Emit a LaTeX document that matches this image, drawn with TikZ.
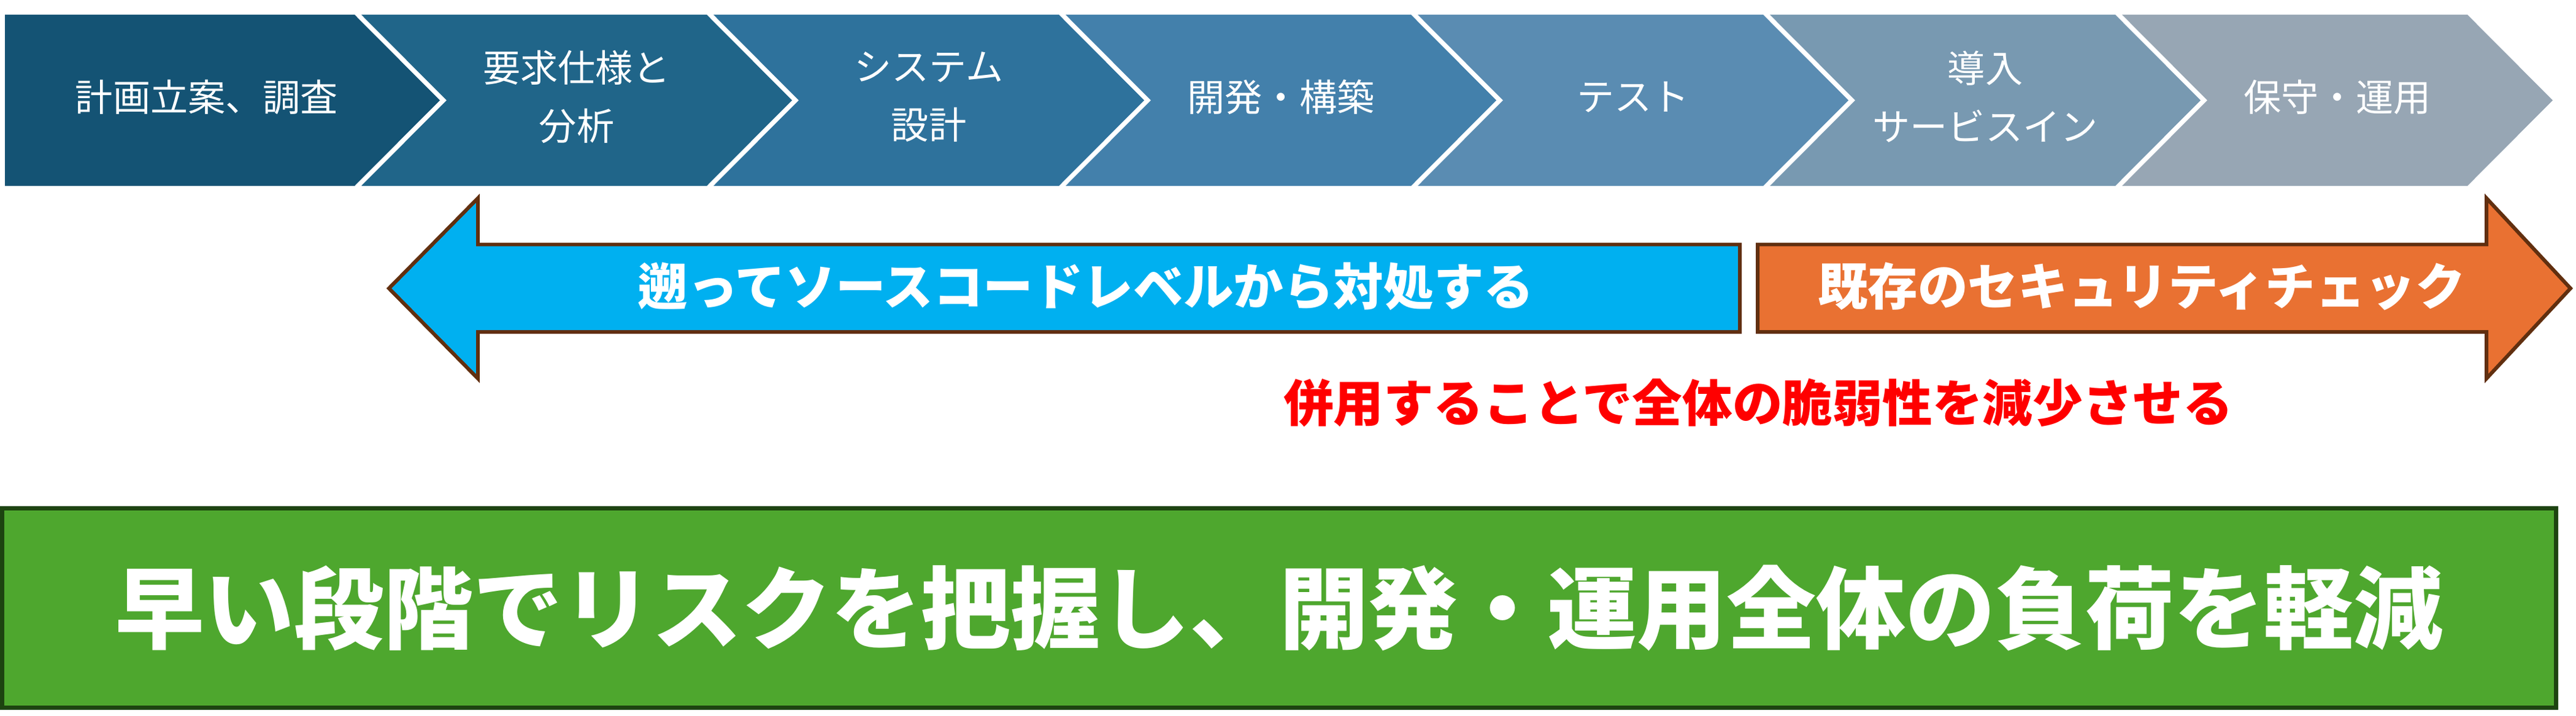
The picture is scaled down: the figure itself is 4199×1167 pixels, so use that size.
\documentclass[tikz,border=0pt]{standalone}
\usepackage{fontspec}
\setmainfont{Noto Sans CJK JP}
\usetikzlibrary{positioning}
\definecolor{stepa}{HTML}{145374}
\definecolor{stepb}{HTML}{206589}
\definecolor{stepc}{HTML}{2E729C}
\definecolor{stepd}{HTML}{4380AB}
\definecolor{stepe}{HTML}{5A8CB2}
\definecolor{stepf}{HTML}{7899B1}
\definecolor{stepg}{HTML}{97A6B4}
\definecolor{backblue}{HTML}{00B0F0}
\definecolor{checkorange}{HTML}{E97132}
\definecolor{arrowbrown}{HTML}{612F0F}
\definecolor{goalgreen}{HTML}{4EA72E}
\definecolor{goaldark}{HTML}{1D4410}

\begin{document}
\begin{tikzpicture}[x=0.01cm, y=-0.01cm,
            stagetext/.style={text=white, align=center, font=\fontsize{17.4pt}{27pt}\selectfont},
            arrowtext/.style={text=white, font=\bfseries\fontsize{23.2pt}{28pt}\selectfont},
            blockarrow/.style={draw=arrowbrown, line width=1.7pt, miter limit=10}]
        \useasboundingbox (0,0) rectangle (4199,1167);
        % process chevrons
        \fill[stepa] (8,24) -- (578,24) -- (717,163.5) -- (578,303) -- (8,303) -- cycle;
        \fill[stepb] (589,24) -- (1152,24) -- (1291,163.5) -- (1152,303) -- (589,303) -- (728,163.5) -- cycle;
        \fill[stepc] (1163,24) -- (1726,24) -- (1865,163.5) -- (1726,303) -- (1163,303) -- (1302,163.5) -- cycle;
        \fill[stepd] (1737,24) -- (2300,24) -- (2439,163.5) -- (2300,303) -- (1737,303) -- (1876,163.5) -- cycle;
        \fill[stepe] (2311,24) -- (2874,24) -- (3013,163.5) -- (2874,303) -- (2311,303) -- (2450,163.5) -- cycle;
        \fill[stepf] (2885,24) -- (3448,24) -- (3587,163.5) -- (3448,303) -- (2885,303) -- (3024,163.5) -- cycle;
        \fill[stepg] (3459,24) -- (4022,24) -- (4161,163.5) -- (4022,303) -- (3459,303) -- (3598,163.5) -- cycle;
        \node[stagetext] (s1) at (337,158) {計画立案、調査};
        \node[stagetext] (s2) at (940,158) {要求仕様と\\分析};
        \node[stagetext] (s3) at (1514,158) {システム\\設計};
        \node[stagetext] (s4) at (2088,158) {開発・構築};
        \node[stagetext] (s5) at (2662,158) {テスト};
        \node[stagetext] (s6) at (3236,158) {導入\\サービスイン};
        \node[stagetext] (s7) at (3810,158) {保守・運用};
        % block arrows
        \draw[blockarrow, fill=backblue] (634,470) -- (779,323) -- (779,398.5) -- (2836,398.5) -- (2836,541) -- (779,541) -- (779,617) -- cycle;
        \draw[blockarrow, fill=checkorange] (2865,398.5) -- (4053,398.5) -- (4053,323) -- (4190,470) -- (4053,617) -- (4053,541) -- (2865,541) -- cycle;
        \node[arrowtext] (back) at (1770,467) {遡ってソースコードレベルから対処する};
        \node[arrowtext] (check) at (3491,467) {既存のセキュリティチェック};
        \node[text=red, font=\bfseries\fontsize{23.2pt}{28pt}\selectfont] (note) at (2866,656) {併用することで全体の脆弱性を減少させる};
        % summary box
        \draw[draw=goaldark, fill=goalgreen, line width=2pt] (3.5,828.5) rectangle (4166.5,1153.5);
        \node[text=white, font=\bfseries\fontsize{41.5pt}{48pt}\selectfont] (goal) at (2085,991) {早い段階でリスクを把握し、開発・運用全体の負荷を軽減};
    \end{tikzpicture}
\end{document}
